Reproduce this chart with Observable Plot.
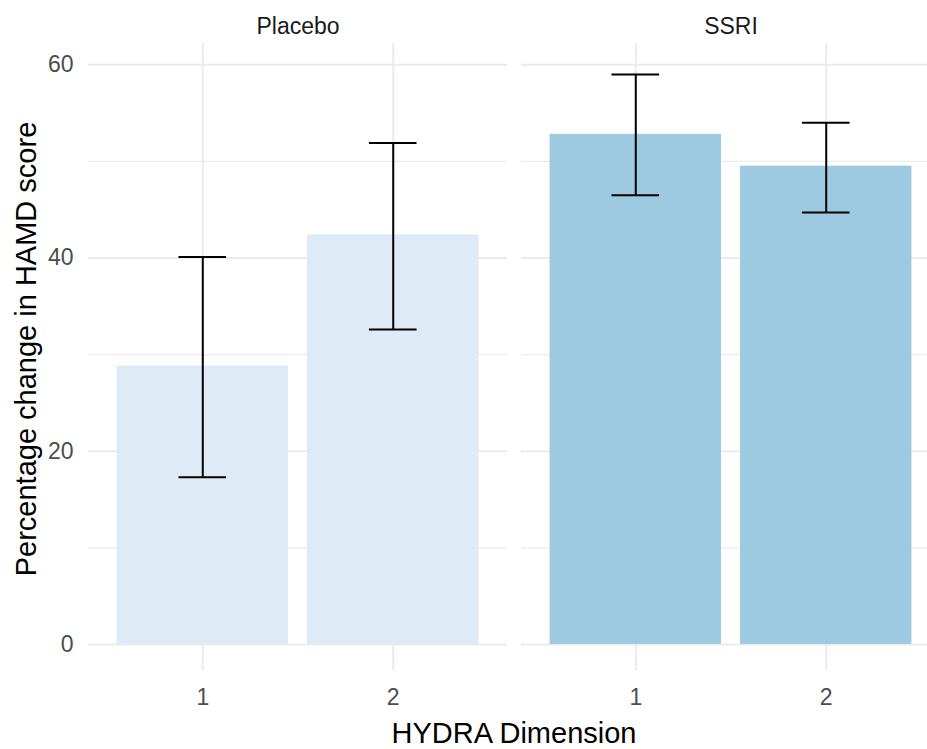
<!DOCTYPE html>
<html>
<head>
<meta charset="utf-8">
<script src="https://cdn.jsdelivr.net/npm/d3@7"></script>
<script src="https://cdn.jsdelivr.net/npm/@observablehq/plot@0.6"></script>
<style>
  html, body { margin: 0; padding: 0; background: #fff; overflow: hidden; width: 927px; height: 749px; }
  #chart svg { display: block; }
</style>
</head>
<body>
<div id="chart"></div>
<script>
// ---- data ----
const treatments = ["Placebo", "Placebo", "SSRI", "SSRI"];
const dimensions = [1, 2, 1, 2];
const means = [28.8, 42.4, 52.8, 49.5];
const lower = [17.3, 32.6, 46.5, 44.7];
const upper = [40.1, 51.9, 59.0, 54.0];

const facetLabels = ["Placebo", "SSRI"];
const barColors = ["#deebf7", "#9ecae1"];
const xTicks = [1, 2];
const yMajor = [0, 20, 40, 60];
const yMinor = [10, 30, 50];
const xTitle = "HYDRA Dimension";
const yTitle = "Percentage change in HAMD score";

const data = treatments.map((t, i) => ({
  treatment: t, dim: dimensions[i], mean: means[i], lo: lower[i], hi: upper[i]
}));

const barHalf = 0.45, capHalf = 0.125;
const W = 940, H = 749, VIEW_W = 927;

const chart = Plot.plot({
  width: W,
  height: H,
  marginLeft: 88,
  marginRight: 0,
  marginTop: 43,
  marginBottom: 79,
  style: { fontFamily: "'Liberation Sans', Arial, sans-serif", fontSize: "23px", color: "#4d4d4d", background: "#fff" },
  fx: { domain: facetLabels, label: null, axis: "top", tickSize: 0, tickPadding: 10, paddingInner: 14 / 433, paddingOuter: 0 },
  x: { domain: [0.4, 2.6], ticks: xTicks, tickFormat: d => String(d), tickSize: 0, tickPadding: 18, label: null, axis: "bottom" },
  y: { domain: [-2.7, 62.2], ticks: yMajor, tickSize: 0, tickPadding: 15, label: null },
  color: { domain: facetLabels, range: barColors },
  marks: [
    Plot.ruleY(yMinor, { stroke: "#ebebeb", strokeWidth: 1.2 }),
    Plot.ruleY(yMajor, { stroke: "#ebebeb", strokeWidth: 2 }),
    Plot.ruleX(xTicks, { stroke: "#ebebeb", strokeWidth: 2 }),
    Plot.rectY(data, {
      fx: "treatment",
      x1: d => d.dim - barHalf,
      x2: d => d.dim + barHalf,
      y1: 0,
      y2: "mean",
      fill: "treatment"
    }),
    Plot.ruleX(data, { fx: "treatment", x: "dim", y1: "lo", y2: "hi", stroke: "#000", strokeWidth: 2 }),
    Plot.ruleY(data, { fx: "treatment", y: "hi", x1: d => d.dim - capHalf, x2: d => d.dim + capHalf, stroke: "#000", strokeWidth: 2 }),
    Plot.ruleY(data, { fx: "treatment", y: "lo", x1: d => d.dim - capHalf, x2: d => d.dim + capHalf, stroke: "#000", strokeWidth: 2 })
  ]
});

// the reference is cropped on the right: show only the first 927px of the 940px layout
chart.setAttribute("width", VIEW_W);
chart.setAttribute("viewBox", `0 0 ${VIEW_W} ${H}`);
chart.style.overflow = "hidden";
chart.style.maxWidth = "none";

document.getElementById("chart").appendChild(chart);

// strip labels darker
d3.select(chart).selectAll('g[aria-label="fx-axis tick label"] text, g[aria-label="fx-axis"] text')
  .attr("fill", "#1a1a1a");

// axis titles
const svg = d3.select(chart);
svg.append("text")
  .attr("x", (88 + W) / 2)
  .attr("y", 743)
  .attr("text-anchor", "middle")
  .attr("fill", "#000")
  .style("font-size", "29px")
  .text(xTitle);
svg.append("text")
  .attr("transform", "translate(36, 349) rotate(-90)")
  .attr("text-anchor", "middle")
  .attr("fill", "#000")
  .style("font-size", "29px")
  .text(yTitle);
</script>
</body>
</html>
